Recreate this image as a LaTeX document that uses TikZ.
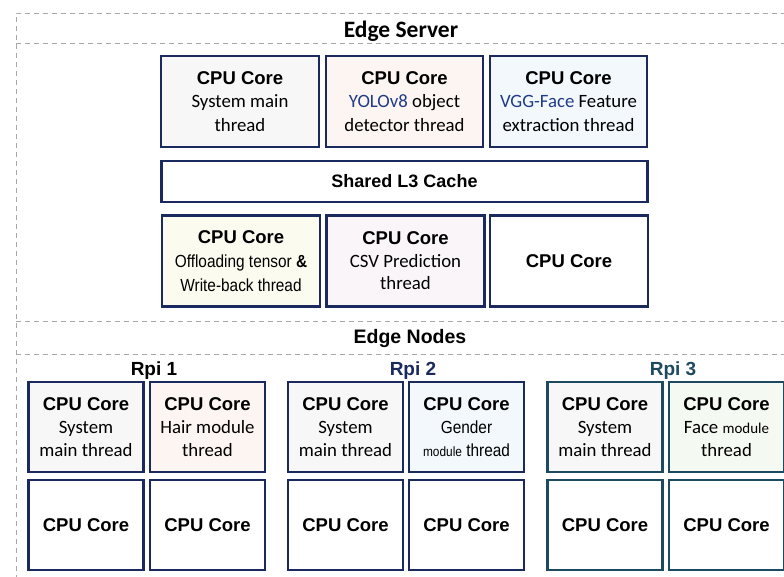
\documentclass[tikz,border=0pt]{standalone}
\usepackage{fontspec}
\newfontfamily\arialf{Liberation Sans}
\newfontfamily\arialn[FakeStretch=0.88]{Liberation Sans}
\newfontfamily\calf{Carlito}
\definecolor{navy}{HTML}{1B2A5E}
\definecolor{tealc}{HTML}{1D4A60}
\definecolor{txtblue}{HTML}{1F3C88}
\definecolor{dashgrey}{HTML}{A8A8A8}
\definecolor{fgrey}{HTML}{F7F7F8}
\definecolor{fpink}{HTML}{FDF5F2}
\definecolor{fblue}{HTML}{F3F8FC}
\definecolor{fyellow}{HTML}{FBFBF0}
\definecolor{flav}{HTML}{FAF5F9}
\definecolor{fgreen}{HTML}{F4F9F2}
\newcommand\mycpu{\arialf\bfseries\fontsize{18.5}{23.5}\selectfont}
\newcommand\mysub{\calf\fontsize{18.8}{23.5}\selectfont}
\newcommand\mysubn{\arialn\fontsize{17.5}{23.5}\selectfont}
\tikzset{
  core/.style={draw=navy, line width=2.4pt, fill=white, align=center, inner sep=0pt,
    font=\mysub, minimum width=157.5pt, minimum height=91pt},
  rcore/.style={core, minimum width=115pt, minimum height=89.5pt},
  frame/.style={draw=dashgrey, line width=1pt, dash pattern=on 5pt off 4pt},
  title/.style={inner sep=0pt, anchor=base}
}
\begin{document}
\begin{tikzpicture}[x=1pt,y=-1pt]
\useasboundingbox (0,0) rectangle (784,576);
\clip (0,0) rectangle (784,576);
% dashed frames
\draw[frame] (16,580) -- (16,13) -- (790,13);
\draw[frame] (16,43) -- (790,43);
\draw[frame] (16,321) -- (790,321);
\draw[frame] (16,354) -- (790,354);
% titles
\node[title, font=\calf\bfseries\fontsize{23.5}{26}\selectfont] (es) at (401,37.5) {Edge Server};
\node[title, font=\arialf\bfseries\fontsize{19.5}{23}\selectfont] (en) at (410,343.5) {Edge Nodes};
% Edge server row 1
\node[core, fill=fgrey] (s1) at (240,101.5) {{\mycpu CPU Core}\\System main\\thread};
\node[core, fill=fpink] (s2) at (404.5,101.5) {{\mycpu CPU Core}\\{\color{txtblue}YOLOv8} object\\detector thread};
\node[core, fill=fblue] (s3) at (568.5,101.5) {{\mycpu CPU Core}\\{\color{txtblue}VGG-Face} Feature\\extraction thread};
% L3 cache
\node[core, minimum width=486pt, minimum height=41pt, font=\arialf\bfseries\fontsize{18}{22}\selectfont] (l3) at (404.5,181.5) {Shared L3 Cache};
% row 3
\node[core, fill=fyellow, font=\mysubn] (s4) at (241,261) {{\mycpu CPU Core}\\[0.6pt]Offloading tensor \textbf{\&}\\[0.6pt]Write-back thread};
\node[core, fill=flav, minimum width=158pt] (s5) at (405.5,261) {{\mycpu CPU Core}\\[-1pt]CSV Prediction\\[-1pt]thread};
\node[core, minimum width=158pt] (s6) at (569,261) {\mycpu CPU Core};
% Rpi labels
\node[title, font=\arialf\bfseries\fontsize{19}{22}\selectfont] (r1) at (154,375) {Rpi 1};
\node[title, font=\arialf\bfseries\fontsize{19}{22}\selectfont, text=navy] (r2) at (413,375) {Rpi 2};
\node[title, font=\arialf\bfseries\fontsize{19}{22}\selectfont, text=tealc] (r3) at (673,375) {Rpi 3};
% Rpi 1
\node[rcore, fill=fgrey] (a1) at (86,427) {{\mycpu CPU Core}\\[-0.5pt]System\\[-0.5pt]main thread};
\node[rcore, fill=fpink] (a2) at (207.5,427) {{\mycpu CPU Core}\\[-0.5pt]Hair module\\[-0.5pt]thread};
\node[rcore] (a3) at (86,525) {\mycpu CPU Core};
\node[rcore] (a4) at (207.5,525) {\mycpu CPU Core};
% Rpi 2
\node[rcore, fill=fgrey] (b1) at (345.5,427) {{\mycpu CPU Core}\\[-0.5pt]System\\[-0.5pt]main thread};
\node[rcore, fill=fblue, font=\mysubn] (b2) at (466.5,427) {{\mycpu CPU Core}\\[-0.5pt]Gender\\[-0.5pt]{\fontsize{13.5}{23.5}\selectfont module} thread};
\node[rcore] (b3) at (345.5,525) {\mycpu CPU Core};
\node[rcore] (b4) at (466.5,525) {\mycpu CPU Core};
% Rpi 3
\node[rcore, draw=tealc, fill=fgrey] (c1) at (605,427) {{\mycpu CPU Core}\\[-0.5pt]System\\[-0.5pt]main thread};
\node[rcore, draw=tealc, fill=fgreen] (c2) at (726.5,427) {{\mycpu CPU Core}\\[-0.5pt]Face {\fontsize{15}{23.5}\selectfont module}\\[-0.5pt]thread};
\node[rcore, draw=tealc] (c3) at (605,525) {\mycpu CPU Core};
\node[rcore, draw=tealc] (c4) at (726.5,525) {\mycpu CPU Core};
\end{tikzpicture}
\end{document}
